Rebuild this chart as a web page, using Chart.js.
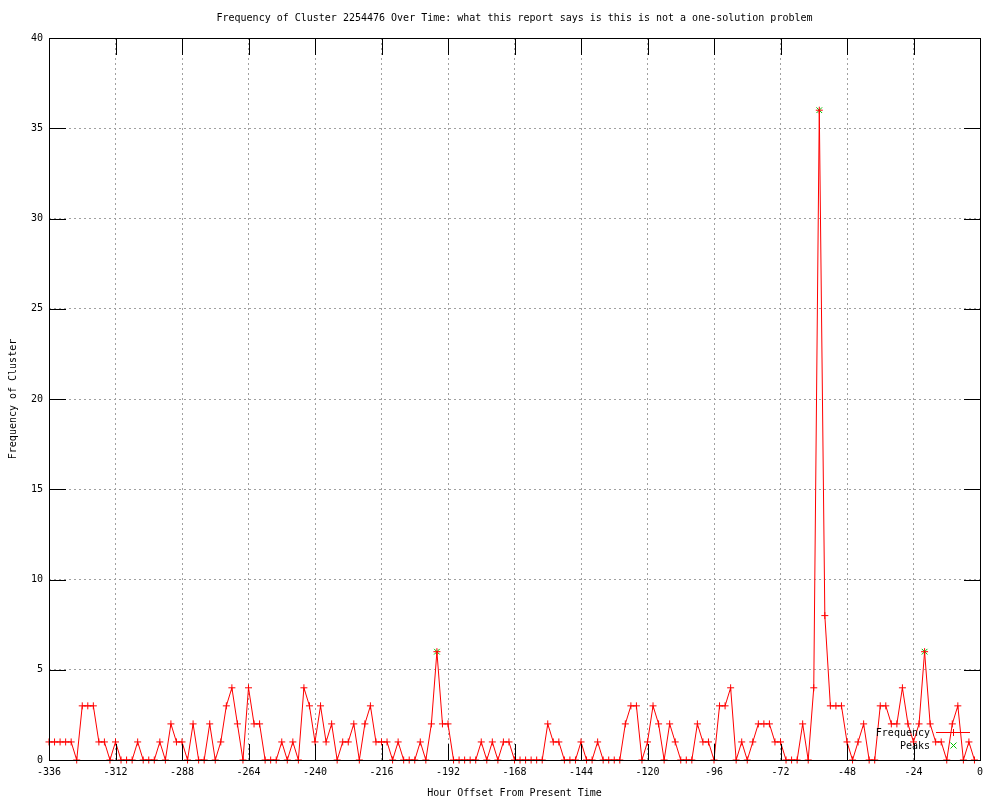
<!DOCTYPE html>
<html>
<head>
<meta charset="utf-8">
<script src="https://cdn.jsdelivr.net/npm/chart.js@4/dist/chart.umd.min.js"></script>
<style>
  html, body { margin: 0; padding: 0; background: #ffffff; }
  canvas { display: block; }
</style>
</head>
<body>
<canvas id="c" width="1000" height="800"></canvas>
<script>
const chartTitle = "Frequency of Cluster 2254476 Over Time: what this report says is this is not a one-solution problem";
const xAxisTitle = "Hour Offset From Present Time";
const yAxisTitle = "Frequency of Cluster";
const seriesNames = ["Frequency", "Peaks"];

const hours = [
  -336,-334,-332,-330,-328,-326,-324,-322,-320,-318,
  -316,-314,-312,-310,-308,-306,-304,-302,-300,-298,
  -296,-294,-292,-290,-288,-286,-284,-282,-280,-278,
  -276,-274,-272,-270,-268,-266,-264,-262,-260,-258,
  -256,-254,-252,-250,-248,-246,-244,-242,-240,-238,
  -236,-234,-232,-230,-228,-226,-224,-222,-220,-218,
  -216,-214,-212,-210,-208,-206,-204,-202,-200,-198,
  -196,-194,-192,-190,-188,-186,-184,-182,-180,-178,
  -176,-174,-172,-170,-168,-166,-164,-162,-160,-158,
  -156,-154,-152,-150,-148,-146,-144,-142,-140,-138,
  -136,-134,-132,-130,-128,-126,-124,-122,-120,-118,
  -116,-114,-112,-110,-108,-106,-104,-102,-100,-98,
  -96,-94,-92,-90,-88,-86,-84,-82,-80,-78,
  -76,-74,-72,-70,-68,-66,-64,-62,-60,-58,
  -56,-54,-52,-50,-48,-46,-44,-42,-40,-38,
  -36,-34,-32,-30,-28,-26,-24,-22,-20,-18,
  -16,-14,-12,-10,-8,-6,-4,-2
];

const frequency = [
  1,1,1,1,1,0,3,3,3,1,
  1,0,1,0,0,0,1,0,0,0,
  1,0,2,1,1,0,2,0,0,2,
  0,1,3,4,2,0,4,2,2,0,
  0,0,1,0,1,0,4,3,1,3,
  1,2,0,1,1,2,0,2,3,1,
  1,1,0,1,0,0,0,1,0,2,
  6,2,2,0,0,0,0,0,1,0,
  1,0,1,1,0,0,0,0,0,0,
  2,1,1,0,0,0,1,0,0,1,
  0,0,0,0,2,3,3,0,1,3,
  2,0,2,1,0,0,0,2,1,1,
  0,3,3,4,0,1,0,1,2,2,
  2,1,1,0,0,0,2,0,4,36,
  8,3,3,3,1,0,1,2,0,0,
  3,3,2,2,4,2,1,2,6,2,
  1,1,0,2,3,0,1,0
];

const peakHours = [-196, -58, -20];
const peakValues = [6, 36, 6];

const xMin = -336, xMax = 0, xStep = 24;
const yMin = 0, yMax = 40, yStep = 5;

const FONT = '10px "DejaVu Sans Mono", "Liberation Mono", monospace';
const RED = '#ff0000';
const GREEN = '#00c000';

const freqPoints = hours.map((h, i) => ({ x: h, y: frequency[i] }));
const peakPoints = peakHours.map((h, i) => ({ x: h, y: peakValues[i] }));

const decorPlugin = {
  id: 'decor',
  beforeDraw(chart) {
    const ctx = chart.ctx;
    ctx.save();
    ctx.fillStyle = '#ffffff';
    ctx.fillRect(0, 0, chart.width, chart.height);
    ctx.restore();
  },
  afterDraw(chart) {
    const ctx = chart.ctx;
    const a = chart.chartArea;
    const xs = chart.scales.x, ys = chart.scales.y;
    ctx.save();
    ctx.setLineDash([]);
    const L = Math.round(a.left), R = Math.round(a.right);
    const T = Math.round(a.top), B = Math.round(a.bottom);
    ctx.fillStyle = '#000000';
    // frame
    ctx.fillRect(L, T, R - L + 1, 1);
    ctx.fillRect(L, B, R - L + 1, 1);
    ctx.fillRect(L, T, 1, B - T + 1);
    ctx.fillRect(R, T, 1, B - T + 1);
    // inward ticks
    const TL = 16;
    xs.ticks.forEach(t => {
      if (t.value === xMin || t.value === xMax) return;
      const px = Math.round(xs.getPixelForValue(t.value));
      ctx.fillRect(px, B - TL, 1, TL);
      ctx.fillRect(px, T + 1, 1, TL);
    });
    ys.ticks.forEach(t => {
      if (t.value === yMin || t.value === yMax) return;
      const py = Math.round(ys.getPixelForValue(t.value));
      ctx.fillRect(L + 1, py, TL, 1);
      ctx.fillRect(R - TL, py, TL, 1);
    });

    // texts
    ctx.font = FONT;
    ctx.textBaseline = 'middle';
    ctx.textAlign = 'center';
    const cx = (a.left + a.right) / 2;
    ctx.fillText(chartTitle, cx, 18);
    ctx.fillText(xAxisTitle, cx, 793);
    ctx.save();
    ctx.translate(13, (a.top + a.bottom) / 2);
    ctx.rotate(-Math.PI / 2);
    ctx.fillText(yAxisTitle, 0, 0);
    ctx.restore();

    // legend
    ctx.textAlign = 'right';
    ctx.fillText(seriesNames[0], 930, 733);
    ctx.fillText(seriesNames[1], 930, 746);
    ctx.strokeStyle = RED;
    ctx.lineWidth = 1;
    ctx.beginPath();
    ctx.moveTo(936, 732.5); ctx.lineTo(970, 732.5);
    ctx.moveTo(953.5, 729); ctx.lineTo(953.5, 736);
    ctx.stroke();
    ctx.strokeStyle = GREEN;
    ctx.beginPath();
    ctx.moveTo(950.5, 742.5); ctx.lineTo(956.5, 748.5);
    ctx.moveTo(956.5, 742.5); ctx.lineTo(950.5, 748.5);
    ctx.stroke();
    ctx.restore();
  }
};

new Chart(document.getElementById('c'), {
  type: 'line',
  data: {
    datasets: [
      {
        label: seriesNames[0],
        data: freqPoints,
        borderColor: RED,
        backgroundColor: RED,
        borderWidth: 1,
        pointStyle: 'cross',
        pointRadius: 3.5,
        pointBorderColor: RED,
        pointBorderWidth: 1,
        tension: 0,
        fill: false,
        order: 1,
        clip: 10
      },
      {
        label: seriesNames[1],
        data: peakPoints,
        showLine: false,
        borderColor: GREEN,
        backgroundColor: GREEN,
        pointStyle: 'crossRot',
        pointRadius: 4,
        pointBorderColor: GREEN,
        pointBorderWidth: 1,
        order: 2,
        clip: 10
      }
    ]
  },
  options: {
    responsive: false,
    animation: false,
    devicePixelRatio: 1,
    layout: { padding: { top: 38, right: 20, left: 1, bottom: 0 } },
    plugins: {
      legend: { display: false },
      title: { display: false },
      tooltip: { enabled: false }
    },
    scales: {
      x: {
        type: 'linear',
        min: xMin,
        max: xMax,
        afterFit: s => { s.height = 40; },
        ticks: {
          stepSize: xStep,
          color: '#000000',
          font: { family: '"DejaVu Sans Mono"', size: 10 },
          maxRotation: 0,
          autoSkip: false,
          padding: 6
        },
        grid: { color: '#a0a0a0', lineWidth: 1, drawTicks: false },
        border: { display: false, dash: [2, 3] }
      },
      y: {
        type: 'linear',
        min: yMin,
        max: yMax,
        afterFit: s => { s.width = 48; },
        ticks: {
          stepSize: yStep,
          color: '#000000',
          font: { family: '"DejaVu Sans Mono"', size: 10 },
          padding: 6
        },
        grid: { color: '#a0a0a0', lineWidth: 1, drawTicks: false },
        border: { display: false, dash: [2, 3] }
      }
    }
  },
  plugins: [decorPlugin]
});
</script>
</body>
</html>
